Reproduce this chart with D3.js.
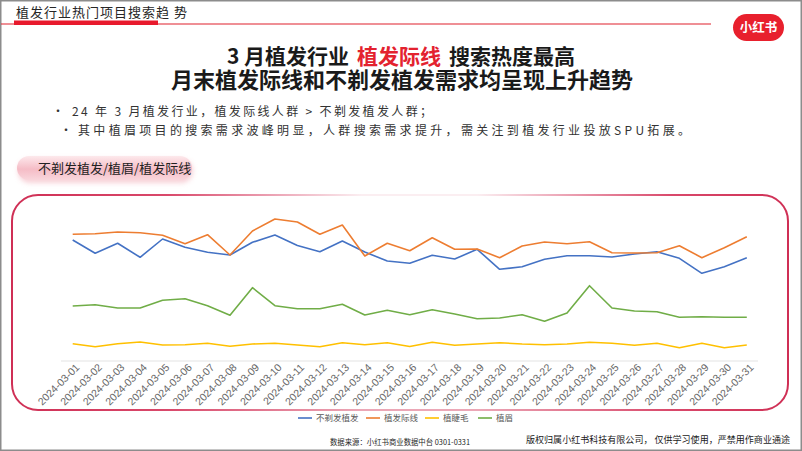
<!DOCTYPE html>
<html><head><meta charset="utf-8">
<script src="https://cdn.jsdelivr.net/npm/d3@7/dist/d3.min.js"></script>
<style>
html,body{margin:0;padding:0;background:#fff;}
svg{display:block;font-family:"Noto Sans CJK SC","Noto Sans",sans-serif;}
</style></head>
<body><svg id="c" width="802" height="451"></svg>
<script>
const dates = d3.range(1, 32).map(d => "2024-03-" + String(d).padStart(2, "0"));
const seriesNames = ["不剃发植发", "植发际线", "植睫毛", "植眉"];
const seriesColors = ["#4472c4", "#ed7d31", "#ffc000", "#70ad47"];
const noShave = [121, 107.7, 117.7, 103.7, 122, 113.7, 108.7, 106, 118.7, 126, 115.5, 109.3, 120, 109, 100, 97.7, 105.7, 102, 111.7, 91.7, 94.3, 101.7, 105.3, 105.3, 104, 107, 109.3, 102.7, 87.7, 94.3, 103.3];
const hairline = [126.7, 127.3, 129, 128.3, 125.7, 117.3, 126.3, 106, 130, 142, 139, 126.7, 136, 105, 117.7, 110.3, 123.3, 111.7, 112, 103.3, 115, 119, 117.3, 119.3, 108.3, 108, 108.3, 115.3, 103.3, 113.3, 124.3];
const eyelash = [17.3, 14.3, 17.3, 19, 16, 16.3, 17.7, 14.7, 17, 17.7, 16, 14.3, 18.3, 16.3, 18.3, 14.5, 18.7, 15.7, 17, 18.3, 17, 16.3, 17, 18.7, 17.7, 15.7, 17.7, 13.3, 17.7, 13.3, 16];
const eyebrow = [55, 56.3, 53, 53, 60.7, 62.3, 55.3, 45.7, 73.3, 55.3, 52.3, 52.3, 56.7, 46, 50.7, 46.3, 51.3, 47, 42.3, 43, 46.3, 39.7, 48, 75.3, 53, 50, 49.3, 43.7, 44.3, 43.7, 43.7];
const seriesValues = [noShave, hairline, eyelash, eyebrow];

const headerText = "植发行业热门项目搜索趋 势";
const titleParts = ["3 月植发行业", "植发际线", "搜索热度最高"];
const title2 = "月末植发际线和不剃发植发需求均呈现上升趋势";
const bullet1 = "24 年 3 月植发行业，植发际线人群 > 不剃发植发人群；";
const bullet2 = "其中植眉项目的搜索需求波峰明显，人群搜索需求提升，需关注到植发行业投放SPU拓展。";
const pillText = "不剃发植发/植眉/植发际线";
const sourceText = "数据来源：小红书商业数据中台 0301-0331";
const copyrightText = "版权归属小红书科技有限公司， 仅供学习使用，严禁用作商业通途";

const svg = d3.select("#c");
const defs = svg.append("defs");

// slide border
svg.append("rect").attr("x", 0.75).attr("y", 0.75).attr("width", 800.5).attr("height", 449.5)
  .attr("fill", "#fff").attr("stroke", "#8c8c8c").attr("stroke-width", 1.5);

// header
svg.append("text").attr("x", 16).attr("y", 17).attr("font-size", 13).attr("fill", "#262626")
  .attr("textLength", 171).attr("lengthAdjust", "spacing").text(headerText);
svg.append("line").attr("x1", 1).attr("x2", 711).attr("y1", 24).attr("y2", 24)
  .attr("stroke", "#e0202c").attr("stroke-width", 1.2);
svg.append("rect").attr("x", 14).attr("y", 20.5).attr("width", 144).attr("height", 4.5).attr("fill", "#e8192c");

// logo
svg.append("rect").attr("x", 733).attr("y", 14).attr("width", 51).attr("height", 27).attr("rx", 13.5).attr("fill", "#e8202d");
svg.append("text").attr("x", 758.5).attr("y", 32).attr("text-anchor", "middle").attr("font-size", 12.5)
  .attr("font-weight", 700).attr("fill", "#fff").text("小红书");

// title line 1 as separate texts
const tColors = ["#1a1a1a", "#e3222f", "#1a1a1a"];
const tNodes = titleParts.map((p, i) => svg.append("text").attr("y", 64).attr("font-size", 21)
  .attr("font-weight", 700).attr("fill", tColors[i]).text(p));
const gap = 8;
const widths = tNodes.map(n => n.node().getComputedTextLength());
let cx = 401 - (d3.sum(widths) + gap * 2) / 2;
tNodes.forEach((n, i) => { n.attr("x", cx); cx += widths[i] + gap; });
svg.append("text").attr("x", 402).attr("y", 88).attr("text-anchor", "middle")
  .attr("font-size", 22).attr("font-weight", 700).attr("fill", "#1a1a1a").text(title2);

// bullets
svg.append("text").attr("x", 52).attr("y", 116).attr("font-size", 12).attr("fill", "#333").text("•");
svg.append("text").attr("x", 72).attr("y", 116).attr("font-size", 12).attr("fill", "#333")
  .attr("textLength", 360).attr("lengthAdjust", "spacing").text(bullet1);
svg.append("text").attr("x", 60).attr("y", 135).attr("font-size", 12).attr("fill", "#333").text("•");
svg.append("text").attr("x", 78).attr("y", 135).attr("font-size", 12).attr("fill", "#333")
  .attr("textLength", 612).attr("lengthAdjust", "spacing").text(bullet2);

// pill
const pg = defs.append("linearGradient").attr("id", "pill").attr("x1", 0).attr("y1", 0).attr("x2", 0).attr("y2", 1);
pg.append("stop").attr("offset", "0%").attr("stop-color", "#fde9ec");
pg.append("stop").attr("offset", "55%").attr("stop-color", "#f5bcc6");
pg.append("stop").attr("offset", "100%").attr("stop-color", "#f9d6dc");
const blur = defs.append("filter").attr("id", "sh").attr("x", "-10%").attr("y", "-30%").attr("width", "120%").attr("height", "170%");
blur.append("feGaussianBlur").attr("stdDeviation", 2.5);
svg.append("rect").attr("x", 18).attr("y", 159).attr("width", 175).attr("height", 24).attr("rx", 12)
  .attr("fill", "#f3b3be").attr("opacity", 0.6).attr("filter", "url(#sh)");
svg.append("rect").attr("x", 17).attr("y", 156).attr("width", 175).attr("height", 24).attr("rx", 12)
  .attr("fill", "url(#pill)");
svg.append("text").attr("x", 38).attr("y", 173).attr("font-size", 13).attr("fill", "#222").text(pillText);

// chart frame
function frameGrad(id, mid) {
  const g = defs.append("linearGradient").attr("id", id).attr("gradientUnits", "userSpaceOnUse")
    .attr("x1", 12).attr("x2", 788).attr("y1", 0).attr("y2", 0);
  g.append("stop").attr("offset", "0%").attr("stop-color", "#cf2f55");
  g.append("stop").attr("offset", "20%").attr("stop-color", "#d9496b");
  g.append("stop").attr("offset", "45%").attr("stop-color", mid);
  g.append("stop").attr("offset", "60%").attr("stop-color", mid);
  g.append("stop").attr("offset", "85%").attr("stop-color", "#d9496b");
  g.append("stop").attr("offset", "100%").attr("stop-color", "#cf2f55");
}
frameGrad("fTop", "#fbeef1");
frameGrad("fBot", "#eba7b6");
defs.append("clipPath").attr("id", "cTop").append("rect").attr("x", 0).attr("y", 0).attr("width", 802).attr("height", 300);
defs.append("clipPath").attr("id", "cBot").append("rect").attr("x", 0).attr("y", 300).attr("width", 802).attr("height", 151);
["Top", "Bot"].forEach(k => {
  svg.append("rect").attr("x", 12).attr("y", 195).attr("width", 776).attr("height", 215).attr("rx", 26)
    .attr("fill", "none").attr("stroke", `url(#f${k})`).attr("stroke-width", 2).attr("clip-path", `url(#c${k})`);
});

// scales
const x = d3.scalePoint().domain(dates).range([72.7, 746.8]);
const y = d3.scaleLinear().domain([0, 150]).range([361, 211]);

// baseline / axis
const xAxis = d3.axisBottom(x).tickSize(0).tickPadding(0);
const ax = svg.append("g").attr("transform", `translate(0,${y(0)})`).call(xAxis);
ax.select(".domain").remove();
svg.append("line").attr("x1", 61).attr("x2", 758).attr("y1", y(0)).attr("y2", y(0))
  .attr("stroke", "#e3e3e3").attr("stroke-width", 1);
ax.selectAll(".tick text")
  .attr("font-size", 10.5).attr("fill", "#666").attr("font-family", "Liberation Sans, Arial, sans-serif")
  .attr("text-anchor", "end").attr("dy", 0)
  .attr("transform", "translate(7,7) rotate(-45)");

// lines
const line = d3.line().x((d, i) => x(dates[i])).y(d => y(d));
seriesValues.forEach((vals, k) => {
  svg.append("path").datum(vals).attr("d", line).attr("fill", "none")
    .attr("stroke", seriesColors[k]).attr("stroke-width", 1.6).attr("stroke-linejoin", "round");
});

// legend
const legendX = [298, 366, 425, 478];
const lg = svg.append("g").attr("transform", "translate(0,418)");
seriesNames.forEach((n, k) => {
  lg.append("line").attr("x1", legendX[k]).attr("x2", legendX[k] + 14).attr("y1", 0).attr("y2", 0)
    .attr("stroke", seriesColors[k]).attr("stroke-width", 1.6);
  lg.append("text").attr("x", legendX[k] + 18).attr("y", 3).attr("font-size", 8.5).attr("fill", "#595959").text(n);
});

// footer
svg.append("text").attr("x", 330).attr("y", 445).attr("font-size", 7.5).attr("fill", "#262626")
  .attr("textLength", 140).attr("lengthAdjust", "spacingAndGlyphs").text(sourceText);
svg.append("text").attr("x", 526).attr("y", 443).attr("font-size", 9.1).attr("fill", "#1a1a1a")
  .attr("textLength", 264).attr("lengthAdjust", "spacingAndGlyphs").text(copyrightText);
</script></body></html>
